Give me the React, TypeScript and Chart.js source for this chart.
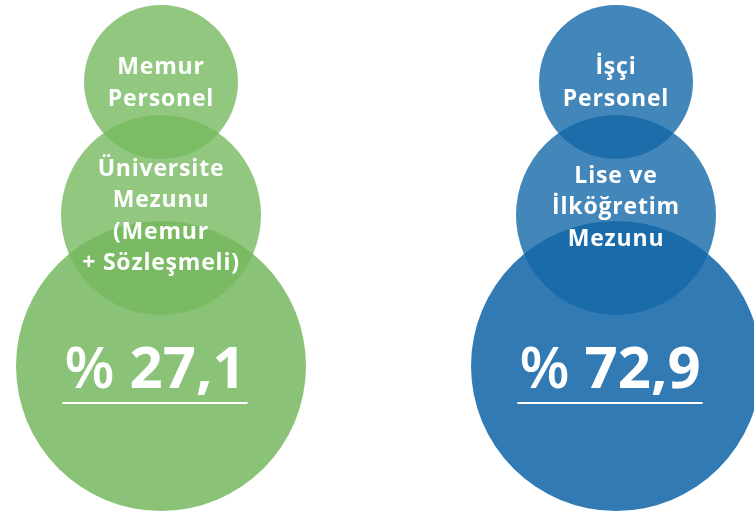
import React, { useEffect, useRef } from "react";
import { Chart, registerables } from "chart.js";

Chart.register(...registerables);

// ---- data ----
const groups = ["Memur", "İşçi"];
const topLabels = [["Memur", "Personel"], ["İşçi", "Personel"]];
const midLabels = [
  ["Üniversite", "Mezunu", "(Memur", "+ Sözleşmeli)"],
  ["Lise ve", "İlköğretim", "Mezunu"],
];
const shares = [27.1, 72.9];
const groupX = [161, 616];
const levelY = [82, 215, 366];
const levelR = [77, 100, 145];
const midLabelShift = [0, -9];
const greenColors = ["rgba(117,185,95,0.8)", "rgba(117,185,95,0.8)", "rgba(117,185,95,0.85)"];
const blueColors = ["rgba(20,104,168,0.8)", "rgba(20,104,168,0.8)", "rgba(20,104,168,0.88)"];

const FONT = "'Open Sans', 'DejaVu Sans', sans-serif";

const textPlugin = {
  id: "infoText",
  afterDatasetsDraw(chart: any) {
    const ctx = chart.ctx as CanvasRenderingContext2D;
    const xs = chart.scales.x;
    const ys = chart.scales.y;
    ctx.save();
    ctx.fillStyle = "#ffffff";
    ctx.strokeStyle = "#ffffff";
    ctx.textAlign = "center";
    ctx.textBaseline = "alphabetic";
    const lh = 31.5;
    groups.forEach((g, i) => {
      const cx = xs.getPixelForValue(groupX[i]);
      ctx.font = `700 23px ${FONT}`;
      (ctx as any).letterSpacing = "0.8px";
      const drawBlock = (lines: string[], cyVal: number, shift: number) => {
        const cy = ys.getPixelForValue(cyVal) + shift;
        const n = lines.length;
        lines.forEach((t, k) => {
          const y = cy + (k - (n - 1) / 2) * lh + 8;
          ctx.fillText(t, cx, y);
        });
      };
      drawBlock(topLabels[i], levelY[0], 0);
      drawBlock(midLabels[i], levelY[1], midLabelShift[i]);
      (ctx as any).letterSpacing = "0px";

      // percentage
      const pct = "%";
      const num = " " + shares[i].toFixed(1).replace(".", ",");
      ctx.textAlign = "left";
      ctx.font = `600 58px ${FONT}`;
      const wp = ctx.measureText(pct).width;
      ctx.font = `700 58px ${FONT}`;
      const wn = ctx.measureText(num).width;
      const total = wp + wn;
      const left = cx - 6 - total / 2;
      const by = ys.getPixelForValue(levelY[2]) + 22;
      ctx.font = `600 58px ${FONT}`;
      ctx.fillText(pct, left, by);
      ctx.font = `700 58px ${FONT}`;
      ctx.fillText(num, left + wp, by);
      ctx.lineWidth = 2;
      ctx.beginPath();
      ctx.moveTo(left - 2, by + 15);
      ctx.lineTo(left + total + 2, by + 15);
      ctx.stroke();
      ctx.textAlign = "center";
    });
    ctx.restore();
  },
};

export default function App() {
  const ref = useRef<HTMLCanvasElement>(null);
  useEffect(() => {
    if (!ref.current) return;
    const datasets = levelY.map((y, lvl) => ({
      label: `level${lvl}`,
      data: groups.map((_, i) => ({ x: groupX[i], y, r: levelR[lvl] })),
      backgroundColor: groups.map((_, i) => (i === 0 ? greenColors[lvl] : blueColors[lvl])),
      borderWidth: 0,
      hoverRadius: 0,
      clip: false as any,
    }));
    const chart = new Chart(ref.current, {
      type: "bubble",
      data: { datasets },
      options: {
        animation: false,
        responsive: false,
        layout: { padding: 0, autoPadding: false },
        events: [],
        plugins: { legend: { display: false }, tooltip: { enabled: false } },
        scales: {
          x: { type: "linear", min: 0, max: 754, display: false },
          y: { type: "linear", min: 0, max: 515, reverse: true, display: false },
        },
      },
      plugins: [textPlugin],
    });
    return () => chart.destroy();
  }, []);
  return (
    <canvas
      ref={ref}
      width={754}
      height={515}
      style={{ position: "fixed", left: 0, top: 0, width: 754, height: 515 }}
    />
  );
}
